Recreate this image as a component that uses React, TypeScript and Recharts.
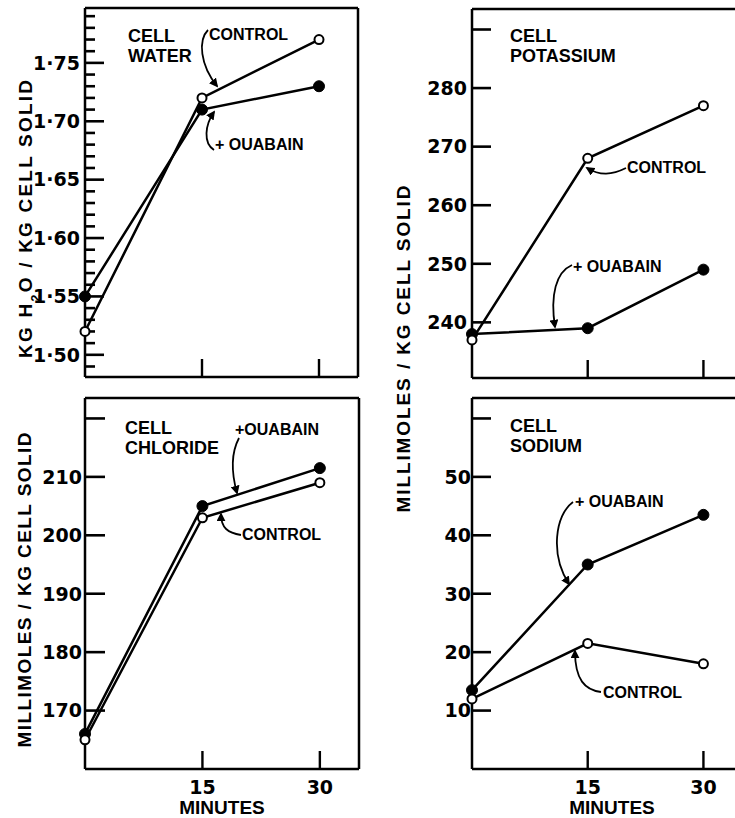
import React from 'react';
import { ComposedChart, Line, Scatter, XAxis, YAxis, ReferenceLine } from 'recharts';

// sampling times (minutes)
const minutes = [0, 15, 30];
const xTicks = [15, 30];

// cell water, kg H2O / kg cell solid
const waterControl = [1.52, 1.72, 1.77];
const waterOuabain = [1.55, 1.71, 1.73];
// cell potassium, mmol / kg cell solid
const potassiumControl = [237, 268, 277];
const potassiumOuabain = [238, 239, 249];
// cell chloride
const chlorideControl = [165, 203, 209];
const chlorideOuabain = [166, 205, 211.5];
// cell sodium
const sodiumControl = [12, 21.5, 18];
const sodiumOuabain = [13.5, 35, 43.5];

// y ticks (water has minor ticks every 0.01)
const waterTicks = Array.from({ length: 31 }, (_, i) => Math.round((1.49 + i * 0.01) * 100) / 100);
const waterLabels = [1.5, 1.55, 1.6, 1.65, 1.7, 1.75];
const potassiumTicks = [240, 250, 260, 270, 280, 290];
const potassiumLabels = [240, 250, 260, 270, 280];
const chlorideTicks = [170, 180, 190, 200, 210, 220];
const chlorideLabels = [170, 180, 190, 200, 210];
const sodiumTicks = [10, 20, 30, 40, 50, 60];
const sodiumLabels = [10, 20, 30, 40, 50];

const X_MAX = 35;
const NUM_FONT = "'DejaVu Sans', sans-serif";
const WORD_FONT = "'Liberation Sans', Arial, sans-serif";
const frame = { stroke: '#000', strokeWidth: 2.5 };

const build = (control: number[], ouabain: number[]) =>
  minutes.map((t, i) => ({ t, control: control[i], ouabain: ouabain[i] }));

// y tick: inward mark from the plot edge plus its label to the left
const TickMark = (props: any) => {
  const cx = Number(props.cx);
  const cy = Number(props.cy);
  const m = props.payload || {};
  return (
    <g>
      <line x1={cx} x2={cx + m.len} y1={cy} y2={cy} stroke="#000" strokeWidth={2.6} />
      {m.label ? (
        <text x={cx - m.gap} y={cy} dy="0.36em" textAnchor="end" fontFamily={NUM_FONT}
          fontWeight="bold" fontSize={19} fill="#000">
          {m.label}
        </text>
      ) : null}
    </g>
  );
};

interface PanelProps {
  left: number;
  top: number;
  width: number;
  height: number;
  margin: { top: number; right: number; bottom: number; left: number };
  yWidth: number;
  xHeight: number;
  domain: [number, number];
  ticks: number[];
  labels: number[];
  fmt: (v: number) => string;
  minorLen: number;
  majorLen: number;
  labelGap: number;
  control: number[];
  ouabain: number[];
  showX: boolean;
}

function Panel(p: PanelProps) {
  const data = build(p.control, p.ouabain);
  const marks = p.ticks.map((v) => ({
    t: 0,
    mark: v,
    len: Math.round(v * 100) % 5 === 0 ? p.majorLen : p.minorLen,
    gap: p.labelGap,
    label: p.labels.some((l) => Math.abs(l - v) < 1e-6) ? p.fmt(v) : '',
  }));

  const xTick = (props: any) => {
    const x = Number(props.x);
    const y = Number(props.y);
    return (
      <g>
        <path d={`M${x},${y}V${y - 18}`} stroke="#000" strokeWidth={2.4} fill="none" />
        {p.showX && (
          <text x={x} y={y + 18} dy="0.36em" textAnchor="middle" fontFamily={NUM_FONT}
            fontWeight="bold" fontSize={19} fill="#000">
            {props.payload.value}
          </text>
        )}
      </g>
    );
  };

  return (
    <div style={{ position: 'absolute', left: p.left, top: p.top }}>
      <ComposedChart width={p.width} height={p.height} data={data} margin={p.margin}>
        <XAxis dataKey="t" type="number" domain={[0, X_MAX]} ticks={xTicks} interval={0}
          tickSize={0} tickMargin={0} height={p.xHeight} axisLine={frame} tickLine={false} tick={xTick} />
        <YAxis type="number" domain={p.domain} width={p.yWidth} axisLine={frame} tickLine={false} tick={false} />
        {/* top and right sides of the box */}
        <ReferenceLine y={p.domain[1]} stroke="#000" strokeWidth={2.5} ifOverflow="visible" />
        <ReferenceLine x={X_MAX} stroke="#000" strokeWidth={2.5} ifOverflow="visible" />
        <Scatter data={marks} dataKey="mark" shape={TickMark} isAnimationActive={false} />
        <Line dataKey="ouabain" stroke="#000" strokeWidth={2.5} isAnimationActive={false} activeDot={false}
          dot={{ r: 5.5, fill: '#000', stroke: '#000', strokeWidth: 1 }} />
        <Line dataKey="control" stroke="#000" strokeWidth={2.5} isAnimationActive={false} activeDot={false}
          dot={{ r: 4.5, fill: '#fff', stroke: '#000', strokeWidth: 2 }} />
      </ComposedChart>
    </div>
  );
}

const plain = (v: number) => String(v);
const dotted = (v: number) => v.toFixed(2).replace('.', '·');

function Arrow({ d }: { d: string }) {
  return <path d={d} fill="none" stroke="#000" strokeWidth={1.8} markerEnd="url(#ah)" />;
}

function Word({ x, y, children, size = 16 }: { x: number; y: number; children: React.ReactNode; size?: number }) {
  return (
    <text x={x} y={y} fontFamily={WORD_FONT} fontWeight="bold" fontSize={size} fill="#000">
      {children}
    </text>
  );
}

export default function App() {
  return (
    <div style={{ position: 'fixed', left: 0, top: 0, width: 735, height: 818, overflow: 'hidden', background: '#fff' }}>
      <svg width={735} height={818} style={{ position: 'absolute', left: 0, top: 0, pointerEvents: 'none' }}>
        <defs>
          <marker id="ah" viewBox="0 0 10 10" refX="8" refY="5" markerWidth="5" markerHeight="5" orient="auto">
            <path d="M0,0 L10,5 L0,10 z" fill="#000" />
          </marker>
        </defs>

        {/* axis titles */}
        <text transform="translate(25,219) rotate(-90)" dy="0.36em" textAnchor="middle" fontFamily={WORD_FONT}
          fontWeight="bold" fontSize={19} textLength={278} lengthAdjust="spacing" fill="#000">
          KG H<tspan baselineShift="sub" fontSize={13}>2</tspan>O / KG CELL SOLID
        </text>
        <text transform="translate(24,590) rotate(-90)" dy="0.36em" textAnchor="middle" fontFamily={WORD_FONT}
          fontWeight="bold" fontSize={19} textLength={315} lengthAdjust="spacing" fill="#000">
          MILLIMOLES / KG CELL SOLID
        </text>
        <text transform="translate(403,349) rotate(-90)" dy="0.36em" textAnchor="middle" fontFamily={WORD_FONT}
          fontWeight="bold" fontSize={19} textLength={327} lengthAdjust="spacing" fill="#000">
          MILLIMOLES / KG CELL SOLID
        </text>
        <text x={222} y={807} dy="0.36em" textAnchor="middle" fontFamily={WORD_FONT} fontWeight="bold" fontSize={19} fill="#000">
          MINUTES
        </text>
        <text x={612} y={807} dy="0.36em" textAnchor="middle" fontFamily={WORD_FONT} fontWeight="bold" fontSize={19} fill="#000">
          MINUTES
        </text>

        {/* panel titles */}
        <Word x={128} y={42} size={18}>CELL</Word>
        <Word x={128} y={62} size={18}>WATER</Word>
        <Word x={510} y={42} size={18}>CELL</Word>
        <Word x={510} y={62} size={18}>POTASSIUM</Word>
        <Word x={125} y={434} size={18}>CELL</Word>
        <Word x={125} y={454} size={18}>CHLORIDE</Word>
        <Word x={510} y={432} size={18}>CELL</Word>
        <Word x={510} y={452} size={18}>SODIUM</Word>

        {/* series annotations */}
        <Word x={209} y={40}>CONTROL</Word>
        <Arrow d="M 208 30 C 198 40, 200 65, 217 86" />
        <Word x={215} y={150}>+ OUABAIN</Word>
        <Arrow d="M 214 150 C 203 143, 205 125, 214 112" />

        <Word x={627} y={173}>CONTROL</Word>
        <Arrow d="M 626 168 C 612 175, 600 176, 587 168" />
        <Word x={573} y={272}>+ OUABAIN</Word>
        <Arrow d="M 572 265 C 556 272, 550 295, 555 327" />

        <Word x={235} y={435}>+OUABAIN</Word>
        <Arrow d="M 239 438 C 230 455, 232 475, 237 493" />
        <Word x={242} y={540}>CONTROL</Word>
        <Arrow d="M 241 535 C 228 533, 221 528, 221 514" />

        <Word x={575} y={507}>+ OUABAIN</Word>
        <Arrow d="M 573 502 C 555 515, 550 555, 569 584" />
        <Word x={603} y={698}>CONTROL</Word>
        <Arrow d="M 601 692 C 585 690, 575 680, 575 651" />
      </svg>

      <Panel left={0} top={0} width={370} height={400} margin={{ top: 8, right: 12, bottom: 0, left: 0 }}
        yWidth={85} xHeight={23} domain={[1.481, 1.797]} ticks={waterTicks} labels={waterLabels}
        fmt={dotted} minorLen={10} majorLen={19} labelGap={5} control={waterControl} ouabain={waterOuabain} showX={false} />
      <Panel left={370} top={0} width={385} height={400} margin={{ top: 9, right: 13, bottom: 0, left: 0 }}
        yWidth={102} xHeight={22} domain={[230.5, 293.5]} ticks={potassiumTicks} labels={potassiumLabels}
        fmt={plain} minorLen={19} majorLen={19} labelGap={5} control={potassiumControl} ouabain={potassiumOuabain} showX={false} />
      <Panel left={0} top={390} width={370} height={428} margin={{ top: 8, right: 11, bottom: 0, left: 0 }}
        yWidth={85} xHeight={49} domain={[160, 223.5]} ticks={chlorideTicks} labels={chlorideLabels}
        fmt={plain} minorLen={20} majorLen={20} labelGap={3} control={chlorideControl} ouabain={chlorideOuabain} showX />
      <Panel left={370} top={390} width={385} height={428} margin={{ top: 8, right: 13, bottom: 0, left: 0 }}
        yWidth={102} xHeight={49} domain={[0, 63.5]} ticks={sodiumTicks} labels={sodiumLabels}
        fmt={plain} minorLen={19} majorLen={19} labelGap={1} control={sodiumControl} ouabain={sodiumOuabain} showX />
    </div>
  );
}
